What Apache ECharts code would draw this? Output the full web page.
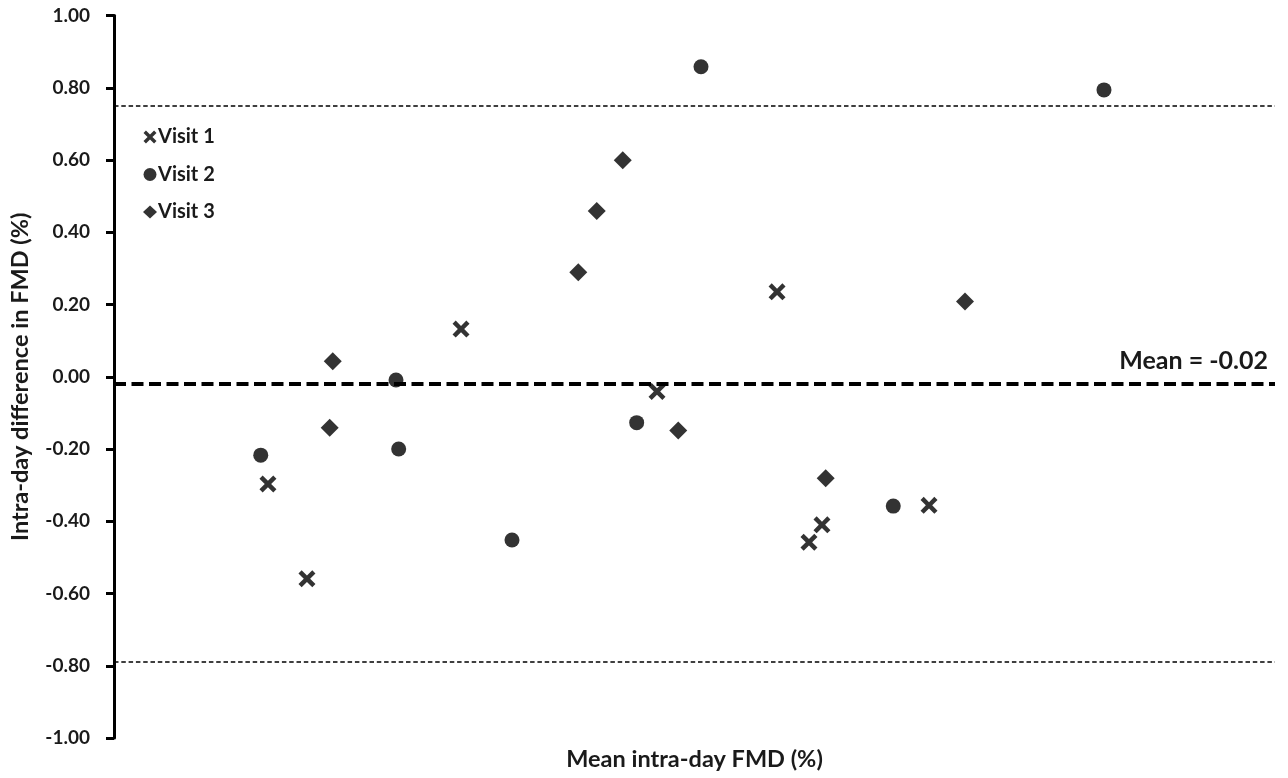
<!DOCTYPE html>
<html>
<head>
<meta charset="utf-8">
<script src="https://cdn.jsdelivr.net/npm/echarts@6/dist/echarts.min.js"></script>
<style>
html,body{margin:0;padding:0;background:#fff;}
#c{width:1288px;height:778px;}
</style>
</head>
<body>
<div id="c"></div>
<script>
// Mean intra-day FMD (arbitrary position units, axis unlabeled) and intra-day difference (%)
const visit1X = [13.26, 16.62, 29.89, 46.77, 57.11, 59.86, 60.98, 70.2];
const visit1Y = [-0.297, -0.559, 0.132, -0.041, 0.235, -0.458, -0.41, -0.356];
const visit2X = [12.64, 24.29, 24.52, 34.28, 45.02, 50.56, 67.12, 85.27];
const visit2Y = [-0.217, -0.009, -0.2, -0.452, -0.127, 0.858, -0.358, 0.794];
const visit3X = [18.84, 18.58, 39.99, 41.58, 43.82, 48.6, 61.3, 73.3];
const visit3Y = [0.043, -0.141, 0.289, 0.459, 0.599, -0.149, -0.281, 0.208];
const meanDiff = -0.02;
const upperLimit = 0.754;
const lowerLimit = -0.792;
const yTicks = [-1, -0.8, -0.6, -0.4, -0.2, 0, 0.2, 0.4, 0.6, 0.8, 1];

const pair = (xs, ys) => xs.map((x, i) => [x, ys[i]]);
const FONT = 'Lato';
const crossPath = 'path://M0,3 L3,0 L8,5 L13,0 L16,3 L11,8 L16,13 L13,16 L8,11 L3,16 L0,13 L5,8 Z';

const chart = echarts.init(document.getElementById('c'), null, {renderer: 'canvas'});
chart.setOption({
  animation: false,
  backgroundColor: '#fff',
  grid: {left: 114, right: 13, top: 15.5, bottom: 40, containLabel: false},
  legend: {
    orient: 'vertical',
    left: 138, top: 122,
    itemWidth: 14, itemHeight: 13, itemGap: 17.5,
    textStyle: {fontFamily: FONT, fontWeight: 'bold', fontSize: 20, color: '#1a1a1a', padding: [0,0,0,-4]},
    data: [
      {name: 'Visit 1', icon: crossPath},
      {name: 'Visit 2', icon: 'circle'},
      {name: 'Visit 3', icon: 'diamond'}
    ]
  },
  xAxis: {
    type: 'value', min: 0, max: 100,
    axisLine: {show: false}, axisTick: {show: false}, axisLabel: {show: false},
    splitLine: {show: false},
    name: 'Mean intra-day FMD (%)', nameLocation: 'middle', nameGap: 9,
    nameTextStyle: {fontFamily: FONT, fontWeight: 'bold', fontSize: 23.5, color: '#1a1a1a'}
  },
  yAxis: {
    type: 'value', min: -1, max: 1, interval: 0.2,
    axisLine: {show: true, onZero: false, lineStyle: {color: '#000', width: 3}},
    axisTick: {show: true, length: 8, lineStyle: {color: '#000', width: 3}},
    axisLabel: {margin: 24, fontFamily: FONT, fontWeight: 'bold', fontSize: 19, color: '#1a1a1a',
      formatter: v => v.toFixed(2)},
    splitLine: {show: false},
    name: 'Intra-day difference in FMD (%)', nameLocation: 'middle', nameGap: 82, nameRotate: 90,
    nameTextStyle: {fontFamily: FONT, fontWeight: 'bold', fontSize: 23.5, color: '#1a1a1a'}
  },
  series: [
    {
      name: 'Visit 1', type: 'scatter', symbol: crossPath, symbolSize: 17,
      itemStyle: {color: '#000'}, data: pair(visit1X, visit1Y), z: 5,
      markLine: {
        silent: true, symbol: 'none', animation: false,
        data: [
          {yAxis: upperLimit, lineStyle: {type: [4.5, 2.8], width: 1.5, color: '#000'}, label: {show: false}},
          {yAxis: lowerLimit, lineStyle: {type: [4.5, 2.8], width: 1.5, color: '#000'}, label: {show: false}},
          {yAxis: meanDiff, lineStyle: {type: [12, 5.5], width: 4, color: '#000'},
            label: {show: true, position: 'insideEndTop', formatter: 'Mean = -0.02', distance: [7, 11],
              fontFamily: FONT, fontWeight: 'bold', fontSize: 25, color: '#1a1a1a'}}
        ]
      }
    },
    {
      name: 'Visit 2', type: 'scatter', symbol: 'circle', symbolSize: 15,
      itemStyle: {color: '#000'}, data: pair(visit2X, visit2Y), z: 5
    },
    {
      name: 'Visit 3', type: 'scatter', symbol: 'diamond', symbolSize: [18, 18],
      itemStyle: {color: '#000'}, data: pair(visit3X, visit3Y), z: 5
    }
  ]
});
</script>
</body>
</html>
